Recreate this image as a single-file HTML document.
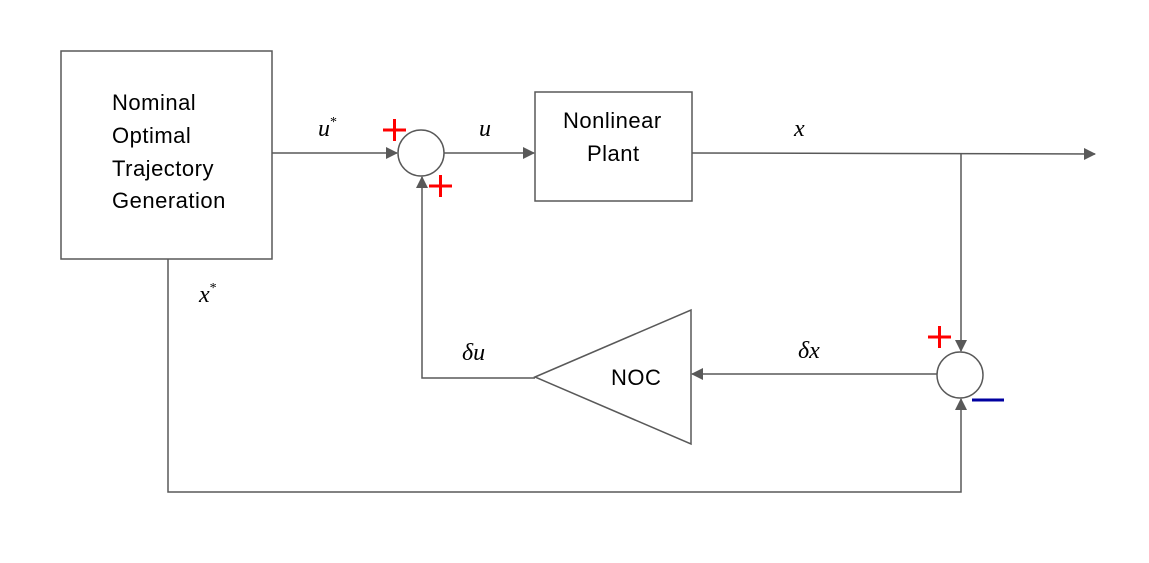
<!DOCTYPE html>
<html><head><meta charset="utf-8"><style>
html,body{margin:0;padding:0;background:#fff;}
svg{display:block;}
.t{font-family:"Liberation Sans","DejaVu Sans",sans-serif;font-size:22px;letter-spacing:0.5px;fill:#000;}
.m{font-family:"Liberation Serif","DejaVu Serif",serif;font-style:italic;font-size:24px;fill:#000;}
</style></head><body>
<svg width="1149" height="563" viewBox="0 0 1149 563" xmlns="http://www.w3.org/2000/svg">
<defs>
<marker id="a" markerWidth="12" markerHeight="12" refX="11" refY="6" orient="auto" markerUnits="userSpaceOnUse">
<path d="M0,0 L12,6 L0,12 z" fill="#595959"/></marker>
</defs>
<g stroke="#595959" stroke-width="1.5" fill="none">
<rect x="61" y="51" width="211" height="208"/>
<rect x="535" y="92" width="157" height="109"/>
<circle cx="421" cy="153" r="23"/>
<circle cx="960" cy="375" r="23"/>
<polygon points="535,377 691,310 691,444"/>
<line x1="272" y1="153" x2="397" y2="153" marker-end="url(#a)"/>
<line x1="444" y1="153" x2="534" y2="153" marker-end="url(#a)"/>
<line x1="692" y1="153" x2="1095" y2="154" marker-end="url(#a)"/>
<line x1="961" y1="153" x2="961" y2="351" marker-end="url(#a)"/>
<polyline points="168,259 168,492 961,492 961,399" marker-end="url(#a)"/>
<line x1="937" y1="374" x2="692" y2="374" marker-end="url(#a)"/>
<polyline points="535,378 422,378 422,177" marker-end="url(#a)"/>
</g>
<g class="t">
<text x="112" y="110">Nominal</text>
<text x="112" y="143">Optimal</text>
<text x="112" y="176">Trajectory</text>
<text x="112" y="208">Generation</text>
<text x="563" y="128">Nonlinear</text>
<text x="587" y="161">Plant</text>
<text x="611" y="385">NOC</text>
</g>
<g class="m">
<text x="318" y="136">u<tspan font-size="14" dy="-10" font-style="normal">*</tspan></text>
<text x="479" y="136">u</text>
<text x="794" y="136">x</text>
<text x="199" y="302">x<tspan font-size="14" dy="-10" font-style="normal">*</tspan></text>
<text x="462" y="360">δu</text>
<text x="798" y="358">δx</text>
</g>
<g stroke="#ff0000" stroke-width="3">
<line x1="383" y1="130" x2="406" y2="130"/><line x1="394.5" y1="119" x2="394.5" y2="141"/>
<line x1="429" y1="186" x2="452" y2="186"/><line x1="440.5" y1="175" x2="440.5" y2="197"/>
<line x1="928" y1="337" x2="951" y2="337"/><line x1="939.5" y1="326" x2="939.5" y2="348"/>
</g>
<line x1="972" y1="400" x2="1004" y2="400" stroke="#0000a0" stroke-width="3"/>
</svg>
</body></html>
